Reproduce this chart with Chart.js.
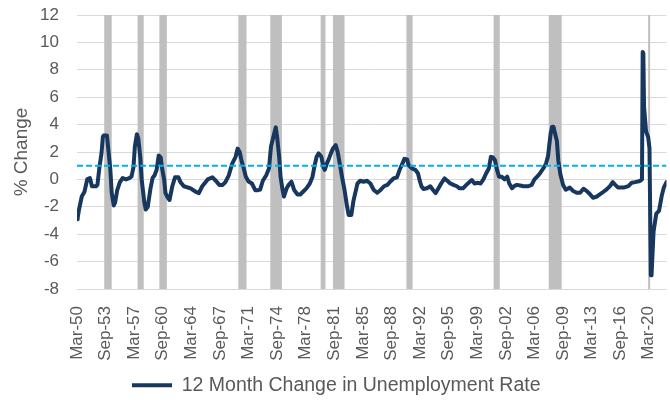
<!DOCTYPE html>
<html>
<head>
<meta charset="utf-8">
<script src="https://cdn.jsdelivr.net/npm/chart.js@4.4.1/dist/chart.umd.min.js"></script>
<style>
  html, body { margin: 0; padding: 0; background: #fff; }
  #wrap { width: 670px; height: 405px; }
</style>
</head>
<body>
<div id="wrap"><canvas id="chartUnemp"></canvas></div>
<script>
// x positions are months counted from Jan-1950 (Mar-50 = 2)
const pointMonths = [
  2, 3, 5, 9, 13, 17, 21, 24, 30, 32, 35, 38, 40, 41, 46, 48, 51, 53, 56, 58,
  61, 65, 69, 74, 79, 82, 85, 87, 90, 92, 95, 97, 101, 103, 106, 110, 113, 116, 119, 122,
  125, 127, 130, 132, 135, 138, 142, 146, 151, 154, 159, 169, 176, 181, 186, 194, 201, 206, 211, 216,
  220, 225, 230, 235, 238, 241, 244, 247, 250, 254, 259, 264, 267, 271, 275, 280, 284, 287, 290, 294,
  296, 299, 301, 304, 306, 310, 313, 317, 321, 326, 330, 334, 339, 344, 348, 351, 354, 357, 361, 364,
  366, 369, 372, 375, 378, 382, 385, 388, 392, 395, 398, 401, 405, 408, 411, 414, 418, 423, 428, 433,
  438, 443, 448, 453, 458, 462, 467, 472, 476, 480, 483, 487, 489, 494, 499, 503, 505, 508, 511, 516,
  521, 525, 529, 533, 537, 542, 546, 550, 555, 560, 564, 569, 574, 579, 582, 586, 591, 595, 599, 603,
  607, 610, 613, 616, 619, 622, 626, 630, 634, 637, 641, 644, 648, 653, 658, 665, 670, 674, 678, 682,
  687, 691, 694, 696, 698, 700, 702, 704, 707, 709, 712, 716, 720, 726, 731, 736, 741, 746, 751, 756,
  760, 765, 770, 775, 780, 785, 789, 792, 797, 805, 812, 817, 822, 829, 832, 833, 834, 835, 838, 841,
  843, 845, 846, 849, 853, 857, 861, 864, 868
];
const changeValues = [
  -2.9, -2.8, -2.2, -1.25, -0.9, 0, 0.1, -0.5, -0.5, -0.4, 0.9, 1.9, 3.1, 3.2, 3.2, 2.2, 0.7, -1.0, -1.9, -1.7,
  -0.8, -0.2, 0.1, 0, 0.1, 0.2, 0.9, 2.4, 3.3, 3.0, 1.6, 0, -1.7, -2.2, -2.0, -0.65, 0.1, 0.3, 0.7, 1.75,
  1.6, 0.8, 0, -1.0, -1.3, -1.5, -0.5, 0.15, 0.15, -0.2, -0.5, -0.65, -0.9, -1.0, -0.5, 0, 0.15, -0.1, -0.4, -0.4,
  -0.2, 0.3, 1.15, 1.65, 2.25, 2.0, 1.3, 0.8, 0.2, -0.15, -0.3, -0.8, -0.8, -0.75, -0.1, 0.3, 0.8, 2.4, 3.0, 3.8,
  3.1, 1.65, 0.2, -0.77, -1.25, -0.65, -0.4, -0.17, -0.77, -1.1, -1.1, -0.9, -0.65, -0.3, 0.2, 1.0, 1.65, 1.9, 1.65, 0.9,
  0.7, 1.15, 1.5, 1.9, 2.25, 2.5, 2.0, 1.15, 0, -0.77, -1.75, -2.6, -2.6, -1.6, -0.95, -0.3, -0.1, -0.17, -0.1, -0.3,
  -0.77, -0.97, -0.77, -0.5, -0.4, -0.17, 0.07, 0.15, 0.7, 1.15, 1.5, 1.45, 1.05, 0.8, 0.7, 0.43, 0, -0.5, -0.7, -0.65,
  -0.5, -0.77, -1.0, -0.65, -0.3, 0.07, -0.1, -0.28, -0.4, -0.5, -0.65, -0.65, -0.4, -0.17, -0.05, -0.3, -0.25, -0.3, 0, 0.43,
  0.8, 1.65, 1.6, 1.4, 0.7, 0.2, 0.2, 0, 0.2, -0.3, -0.65, -0.5, -0.4, -0.45, -0.5, -0.5, -0.4, 0, 0.2, 0.43,
  0.8, 1.15, 1.7, 2.6, 3.4, 3.85, 3.85, 3.4, 2.8, 1.4, 0.4, -0.4, -0.75, -0.6, -0.85, -0.97, -0.97, -0.68, -0.85, -1.1,
  -1.34, -1.27, -1.1, -0.92, -0.73, -0.49, -0.2, -0.36, -0.6, -0.6, -0.49, -0.24, -0.2, -0.12, 0, 9.3, 9.2, 5.3, 3.5, 3.1,
  2.3, -7.0, -7.0, -3.8, -2.5, -2.3, -1.2, -0.6, -0.2
];
const tickLabels = [
  'Mar-50', 'Sep-53', 'Mar-57', 'Sep-60', 'Mar-64', 'Sep-67', 'Mar-71', 'Sep-74', 'Mar-78', 'Sep-81', 'Mar-85',
  'Sep-88', 'Mar-92', 'Sep-95', 'Mar-99', 'Sep-02', 'Mar-06', 'Sep-09', 'Mar-13', 'Sep-16', 'Mar-20'
];
const recessionStart = ['1953-07', '1957-08', '1960-04', '1969-12', '1973-11', '1980-01', '1981-07', '1990-07', '2001-03', '2007-12', '2020-02'];
const recessionEnd   = ['1954-05', '1958-04', '1961-02', '1970-11', '1975-03', '1980-07', '1982-11', '1991-03', '2001-11', '2009-06', '2020-04'];
const referenceLevel = 1.0;
const xFirst = 2, xLast = 868;

const monthNames = ['Jan', 'Feb', 'Mar', 'Apr', 'May', 'Jun', 'Jul', 'Aug', 'Sep', 'Oct', 'Nov', 'Dec'];
function labelMonth(l) {
  const [mon, yy] = l.split('-');
  const year = +yy >= 50 ? 1900 + +yy : 2000 + +yy;
  return (year - 1950) * 12 + monthNames.indexOf(mon);
}
function isoMonth(s) {
  const [y, m] = s.split('-').map(Number);
  return (y - 1950) * 12 + m - 1;
}

Chart.defaults.font.family = "'Liberation Sans', Arial, sans-serif";
Chart.defaults.color = '#595959';

// grey recession columns, full plot height
const recessionShade = {
  id: 'recessionShade',
  beforeDatasetsDraw(chart) {
    const { ctx, chartArea, scales: { x } } = chart;
    ctx.save();
    ctx.fillStyle = '#bfbfbf';
    recessionStart.forEach((s, i) => {
      const x0 = x.getPixelForValue(isoMonth(s));
      const x1 = x.getPixelForValue(isoMonth(recessionEnd[i]) + 1);
      ctx.fillRect(x0, chartArea.top, x1 - x0, chartArea.bottom - chartArea.top);
    });
    ctx.restore();
  }
};

new Chart(document.getElementById('chartUnemp'), {
  type: 'line',
  data: {
    datasets: [
      {
        label: 'ref',
        data: [{ x: xFirst, y: referenceLevel }, { x: xLast, y: referenceLevel }],
        borderColor: '#00b0f0',
        borderWidth: 2,
        borderDash: [6, 3],
        pointRadius: 0
      },
      {
        label: '12 Month Change in Unemployment Rate',
        data: pointMonths.map((m, i) => ({ x: m, y: changeValues[i] })),
        borderColor: '#17375e',
        backgroundColor: '#17375e',
        borderWidth: 4,
        borderJoinStyle: 'round',
        borderCapStyle: 'round',
        pointRadius: 0,
        tension: 0
      }
    ]
  },
  options: {
    responsive: true,
    maintainAspectRatio: false,
    animation: false,
    layout: { padding: { left: 6, right: 3.5, top: 0, bottom: 0 } },
    scales: {
      x: {
        type: 'linear',
        min: xFirst,
        max: xLast,
        grid: { display: false },
        border: { display: false },
        afterBuildTicks: (scale) => { scale.ticks = tickLabels.map(l => ({ value: labelMonth(l) })); },
        afterFit: (scale) => { scale.height = 85.5; scale.paddingLeft = 0; scale.paddingRight = 0; },
        ticks: {
          autoSkip: false,
          minRotation: 90,
          maxRotation: 90,
          padding: 9,
          color: '#595959',
          font: { size: 17 },
          callback: (v, i) => tickLabels[i]
        }
      },
      y: {
        min: -8,
        max: 12,
        grid: { color: '#d9d9d9', drawTicks: false },
        border: { display: false },
        afterFit: (scale) => { scale.width = 71; scale.paddingTop = 15; },
        ticks: { stepSize: 2, padding: 18, color: '#595959', font: { size: 17 } },
        title: { display: true, text: '% Change', color: '#595959', font: { size: 19 } }
      }
    },
    plugins: {
      tooltip: { enabled: false },
      legend: {
        position: 'bottom',
        labels: {
          filter: (item) => item.text !== 'ref',
          usePointStyle: true,
          pointStyle: 'line',
          pointStyleWidth: 40,
          color: '#595959',
          font: { size: 19.5 },
          padding: 1
        }
      }
    }
  },
  plugins: [recessionShade]
});
</script>
</body>
</html>
